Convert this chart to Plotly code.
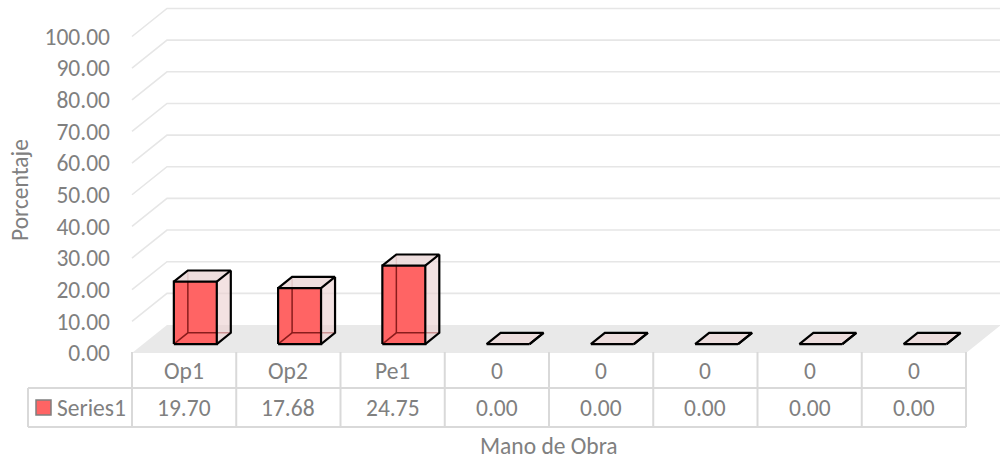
import plotly.graph_objects as go

# ---- data ----
categories = ["Op1", "Op2", "Pe1", "0", "0", "0", "0", "0"]
values = [19.70, 17.68, 24.75, 0.00, 0.00, 0.00, 0.00, 0.00]
series_name = "Series1"
y_ticks = [0, 10, 20, 30, 40, 50, 60, 70, 80, 90, 100]
y_title = "Porcentaje"
x_title = "Mano de Obra"

# ---- layout constants (pixels) ----
W, H = 1000, 464
X0, PXC = 132.0, 104.25      # pixel of category 0 edge, pixels per category
Y0, PXV = 353.0, 3.165       # pixel of value 0, pixels per unit
DXP, DYP = 35.0, 28.0        # depth offset of back wall (pixels)
DX, DY = DXP / PXC, DYP / PXV


def cx(px):
    return (px - X0) / PXC


def vy(py):
    return (Y0 - py) / PXV


XMIN, XMAX = cx(0), cx(W)
YMIN, YMAX = vy(H), vy(0)
n = len(categories)

FONT = "Carlito, Lato, sans-serif"
FS = 23.5
TXT = "#808080"
GRID = "#e6e6e6"
TBL = "#d9d9d9"

fig = go.Figure()

# gridlines (3D: left wall diagonal + back wall horizontal)
for v in y_ticks[1:]:
    fig.add_trace(go.Scatter(x=[0, DX, n + DX], y=[v, v + DY, v + DY], mode="lines",
                             line=dict(color=GRID, width=1.6), hoverinfo="skip", showlegend=False))

# floor
fig.add_trace(go.Scatter(x=[0, n, n + DX, DX, 0], y=[0, 0, DY, DY, 0], mode="lines",
                         fill="toself", fillcolor="#e9e9e9", line=dict(width=0),
                         hoverinfo="skip", showlegend=False))

# bars (3D boxes)
w = 0.206
f0, f1 = 0.32, 0.72
for i, v in enumerate(values):
    c = i + 0.5
    xl0, xr0 = c - w + f0 * DX, c + w + f0 * DX
    xl1, xr1 = c - w + f1 * DX, c + w + f1 * DX
    yb0, yt0 = f0 * DY, v + f0 * DY
    yb1, yt1 = f1 * DY, v + f1 * DY
    if v > 0:
        # front face
        fig.add_trace(go.Scatter(x=[xl0, xr0, xr0, xl0, xl0], y=[yb0, yb0, yt0, yt0, yb0],
                                 mode="lines", fill="toself", fillcolor="#ff6464",
                                 line=dict(width=0), hoverinfo="skip", showlegend=False))
        # hidden edges seen through
        fig.add_trace(go.Scatter(x=[xl0, xl1, xr1, None, xl1, xl1], y=[yb0, yb1, yb1, None, yb1, yt1],
                                 mode="lines", line=dict(color="#8a1c1c", width=1.5),
                                 hoverinfo="skip", showlegend=False))
        # right face
        fig.add_trace(go.Scatter(x=[xr0, xr1, xr1, xr0, xr0], y=[yb0, yb1, yt1, yt0, yb0],
                                 mode="lines", fill="toself", fillcolor="rgba(236,210,210,0.65)",
                                 line=dict(width=0), hoverinfo="skip", showlegend=False))
    # top face
    fig.add_trace(go.Scatter(x=[xl0, xr0, xr1, xl1, xl0], y=[yt0, yt0, yt1, yt1, yt0],
                             mode="lines", fill="toself", fillcolor="rgba(236,218,218,0.9)",
                             line=dict(width=0), hoverinfo="skip", showlegend=False))
    # outline
    fig.add_trace(go.Scatter(
        x=[xl0, xr0, xr0, xl0, xl0, None, xl0, xl1, xr1, xr0, None, xr1, xr1, xr0],
        y=[yb0, yb0, yt0, yt0, yb0, None, yt0, yt1, yt1, yt0, None, yt1, yb1, yb0],
        mode="lines", line=dict(color="black", width=2.2), hoverinfo="skip", showlegend=False))

# ---- data table ----
row1_top, row1_bot, row2_bot = vy(352), vy(388), vy(427)
leg_left = cx(28)
shapes = []
for k in range(n + 1):
    shapes.append(dict(type="line", x0=k, x1=k, y0=row1_top, y1=row2_bot,
                       line=dict(color=TBL, width=2)))
shapes.append(dict(type="line", x0=leg_left, x1=n, y0=row1_bot, y1=row1_bot, line=dict(color=TBL, width=2)))
shapes.append(dict(type="line", x0=leg_left, x1=n, y0=row2_bot, y1=row2_bot, line=dict(color=TBL, width=2)))
shapes.append(dict(type="line", x0=leg_left, x1=leg_left, y0=row1_bot, y1=row2_bot, line=dict(color=TBL, width=2)))
# legend key
shapes.append(dict(type="rect", x0=cx(36), x1=cx(51), y0=vy(400), y1=vy(415),
                   fillcolor="#ff6464", line=dict(color="#7f7f7f", width=1.5)))

annotations = []
for k, (cat, v) in enumerate(zip(categories, values)):
    annotations.append(dict(x=k + 0.5, y=vy(371), text=cat, showarrow=False,
                            font=dict(family=FONT, size=FS, color=TXT)))
    annotations.append(dict(x=k + 0.5, y=vy(408), text=f"{v:.2f}", showarrow=False,
                            font=dict(family=FONT, size=FS, color=TXT)))
annotations.append(dict(x=cx(55), y=vy(408), text=series_name, showarrow=False,
                        xanchor="left", font=dict(family=FONT, size=FS, color=TXT)))
annotations.append(dict(x=cx(549), y=vy(446), text=x_title, showarrow=False,
                        font=dict(family=FONT, size=FS, color=TXT)))
annotations.append(dict(x=cx(20), y=vy(190), text=y_title, showarrow=False, textangle=-90,
                        font=dict(family=FONT, size=FS, color=TXT)))

fig.update_layout(
    width=W, height=H, margin=dict(l=0, r=0, t=0, b=0),
    paper_bgcolor="white", plot_bgcolor="white",
    showlegend=False, shapes=shapes, annotations=annotations,
    xaxis=dict(range=[XMIN, XMAX], visible=False, fixedrange=True),
    yaxis=dict(range=[YMIN, YMAX], anchor="free", position=X0 / W, showgrid=False,
               zeroline=False, showline=False, tickvals=y_ticks,
               ticktext=[f"{t:.2f}" for t in y_ticks], ticklabelstandoff=22,
               tickfont=dict(family=FONT, size=FS, color=TXT), fixedrange=True),
)

fig.write_html("out.html", config={"displayModeBar": False},
               post_script="document.body.style.margin='0';document.body.style.overflow='hidden';")
